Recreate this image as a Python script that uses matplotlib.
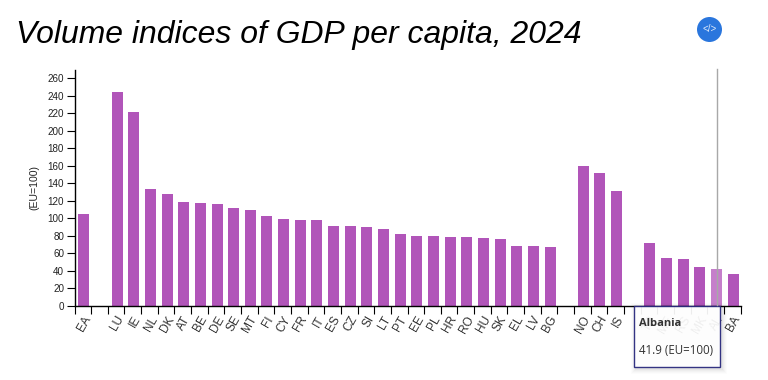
import matplotlib
matplotlib.use("Agg")
import matplotlib.pyplot as plt
from matplotlib.patches import Rectangle, Circle

categories = ["EA", "", "LU", "IE", "NL", "DK", "AT", "BE", "DE", "SE", "MT", "FI", "CY", "FR", "IT",
              "ES", "CZ", "SI", "LT", "PT", "EE", "PL", "HR", "RO", "HU", "SK", "EL", "LV", "BG", "",
              "NO", "CH", "IS", "", "TR", "ME", "RS", "MK", "AL", "BA"]
values = [104.8, None, 244.5, 221.5, 133.5, 127.7, 118.6, 117.4, 116.3, 111.7, 109.4, 102.6, 99, 98, 98,
          91, 91, 90, 88, 82, 80, 79, 78, 78, 77, 75.5, 68.5, 68.5, 66.5, None,
          160, 152, 131, None, 72, 54, 53, 44, 41.9, 36]
yticks = list(range(0, 261, 20))
highlight = "AL"
title = "Volume indices of GDP per capita, 2024"
tooltip_name = "Albania"
tooltip_value = "41.9 (EU=100)"

W, H = 768, 380
plt.rcParams["font.family"] = ["Liberation Sans", "DejaVu Sans"]
fig = plt.figure(figsize=(W / 100, H / 100), dpi=100)
L, R, T, B = 74.5, 740.5, 70, 305.5
ax = fig.add_axes([L / W, 1 - B / H, (R - L) / W, (B - T) / H])
ax.set_xlim(0, len(categories))
ax.set_ylim(0, (B - T) / 0.8746)

for i, (c, v) in enumerate(zip(categories, values)):
    if v is None:
        continue
    ax.bar(i + 0.56, v, width=0.66, color="#C57FCB" if c == highlight else "#B155B9", linewidth=0, zorder=2)

for s in ("top", "right"):
    ax.spines[s].set_visible(False)
for s in ("left", "bottom"):
    ax.spines[s].set_linewidth(1.0)
    ax.spines[s].set_color("black")

ax.set_yticks(yticks)
ax.tick_params(axis="y", labelsize=7.1, length=5.5, width=0.8, pad=2, labelcolor="#222222")
ax.set_xticks([i + 0.5 for i in range(len(categories))])
ax.set_xticklabels(categories, rotation=60, ha="right", va="top", rotation_mode="anchor", fontsize=8.6, color="#333333")
ax.tick_params(axis="x", which="major", length=0, pad=6)
ax.set_xticks(list(range(len(categories) + 1)), minor=True)
ax.tick_params(axis="x", which="minor", length=5.5, width=0.8)

fig.text(34.5 / W, 1 - 187 / H, "(EU=100)", rotation=90, ha="center", va="center", fontsize=7.6, color="#222222")
fig.text(16 / W, 1 - 35 / H, title, style="italic", ha="left", va="center", fontsize=22.95, color="black")

# hover guide line
fig.add_artist(plt.Line2D([716.5 / W] * 2, [1 - 69 / H, 1 - 305 / H], color="#A8A8A8", linewidth=1.0))

# tooltip
tx0, ty0, tx1, ty1 = 633.5, 305.5, 719.5, 367
for k, a in zip((5, 4, 3, 2, 1), (0.012, 0.015, 0.02, 0.025, 0.03)):
    fig.add_artist(Rectangle(((tx0 + 2 - k) / W, 1 - (ty1 + 2 + k) / H), (tx1 - tx0 + 2 * k) / W, (ty1 - ty0 + 2 * k) / H,
                             transform=fig.transFigure, facecolor="black", alpha=a, linewidth=0))
fig.add_artist(Rectangle((tx0 / W, 1 - ty1 / H), (tx1 - tx0) / W, (ty1 - ty0) / H, transform=fig.transFigure,
                         facecolor="white", alpha=0.93, edgecolor="#24247A", linewidth=1.0))
fig.text(639 / W, 1 - 323 / H, tooltip_name, fontsize=8.0, fontweight="bold", family=["Open Sans", "DejaVu Sans"],
         color="#333333", ha="left", va="center")
fig.text(639 / W, 1 - 350 / H, tooltip_value, fontsize=8.3, family=["Open Sans", "DejaVu Sans"],
         color="#333333", ha="left", va="center")

# embed button
fig.add_artist(Circle((709.5, H - 29.5), 12.5, transform=None, facecolor="#2A76DD", edgecolor="none"))
fig.text(709.5 / W, 1 - 29.5 / H, "</>", fontsize=7, color="#DDE9FA", ha="center", va="center")

fig.savefig("out.png", dpi=100, facecolor="white")
